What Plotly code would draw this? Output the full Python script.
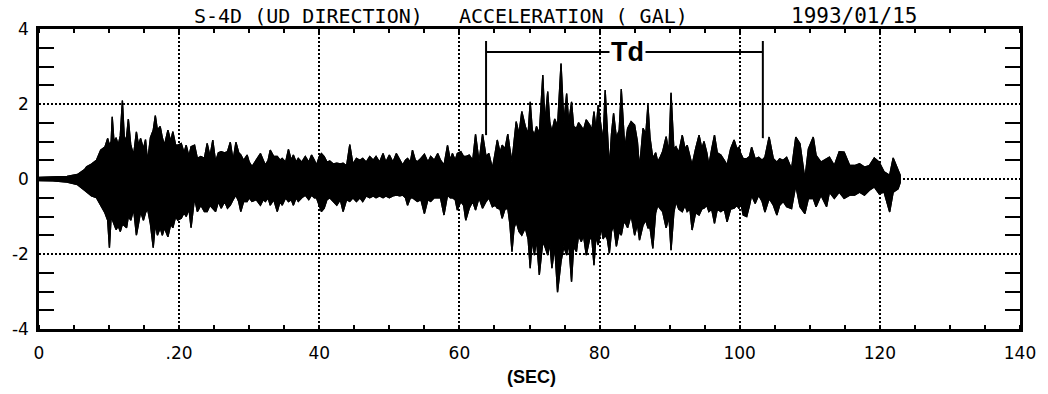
import plotly.graph_objects as go

# ---- waveform envelope (time in s, acceleration in gal) ----
t_s = [
    0, 2, 4, 5.5, 6.5, 6.8, 7.5, 8.2, 8.8, 9.4, 9.8, 10.05, 10.3, 10.45, 10.7, 11.0, 11.3, 11.6, 11.9, 12.2,
    12.5, 12.75, 13.1, 13.5, 13.9, 14.2, 14.5, 14.9, 15.2, 15.5, 15.9, 16.3, 16.6, 16.9, 17.3, 17.6, 17.9, 18.4,
    18.8, 19.1, 19.5, 19.8,
    20.3, 20.7, 21.0, 21.4, 21.7, 22.2, 22.6, 23.1, 23.6, 24.0, 24.4, 24.8, 25.2, 25.6, 26.0, 26.5, 26.9, 27.3,
    27.7, 28.1, 28.5, 28.8, 29.2, 29.7, 30.0, 30.4, 31.0, 31.6, 32.0, 32.3, 32.7, 33.0, 33.5, 34.0, 34.4, 34.7,
    35.2, 35.6, 36.0, 36.3, 36.7, 37.0, 37.5, 38.0, 38.5, 38.9, 39.3, 39.6, 40.0, 40.3,
    40.7, 41.1, 41.5, 42.0, 42.5, 43.0, 43.4, 43.9, 44.35, 44.8, 45.3, 45.8, 46.2, 46.7, 47.2, 47.7, 48.1, 48.6,
    49.1, 49.5, 50.0, 50.5, 51.0, 51.5, 51.9, 52.3, 52.6, 53.0, 53.3, 53.7, 54.0, 54.5, 55.0, 55.5, 55.9, 56.4,
    56.9, 57.3, 57.8, 58.3, 58.7, 59.0, 59.4, 59.7,
    60.2, 60.6, 60.9, 61.4, 61.9, 62.3, 62.8, 63.3, 63.8, 64.2, 64.7, 65.1, 65.4, 65.8, 66.1, 66.5, 66.9, 67.2,
    67.5, 67.8, 68.1, 68.5, 68.9, 69.4, 69.8, 70.1, 70.4, 70.7, 71.0, 71.4, 71.9, 72.2, 72.6, 72.9, 73.2, 73.6,
    74.0, 74.5, 74.9, 75.3, 75.6, 76.0, 76.3, 76.7, 77.0, 77.4, 77.7, 78.1, 78.6, 78.9, 79.2, 79.5, 79.8,
    80.25, 80.5, 80.8, 81.1, 81.4, 81.7, 82.0, 82.4, 82.8, 83.1, 83.4, 83.6, 84.0, 84.5, 85.0, 85.4, 85.7, 86.2,
    86.6, 86.9, 87.2, 87.6, 88.0, 88.3, 88.7, 89.0, 89.5, 89.9, 90.2, 90.6, 90.9, 91.3, 91.8, 92.2, 92.5, 92.9,
    93.2, 93.7, 94.2, 94.6, 94.9, 95.3, 95.6, 96.0, 96.4, 96.8, 97.3, 97.8, 98.2, 98.7, 99.2, 99.6,
    99.9, 100.1, 100.5, 101.0, 101.4, 101.7, 102.2, 102.7, 103.2, 103.6, 104.2, 104.8, 105.3, 105.7, 106.2,
    106.7, 107.4, 108.0, 108.6, 109.3, 109.8, 110.5, 110.9, 111.6, 112.4, 112.8, 113.5, 114.2, 114.9, 115.7,
    116.4, 117.1, 117.8, 118.5, 119.2, 119.9, 120.6, 121.4, 121.9, 122.6, 122.9,
]
acc_hi = [
    0.04, 0.05, 0.07, 0.12, 0.25, 0.33, 0.4, 0.5, 0.77, 0.85, 1.08, 0.9, 1.0, 1.66, 1.0, 1.1, 0.9, 1.15, 2.09, 1.0,
    1.13, 1.6, 0.9, 0.64, 1.26, 0.9, 1.08, 0.8, 1.05, 0.46, 1.1, 1.3, 1.69, 1.3, 1.4, 1.1, 0.9, 1.3,
    1.0, 1.26, 0.9, 0.9,
    0.95, 0.7, 0.9, 0.6, 0.86, 0.9, 0.55, 0.6, 0.55, 0.95, 0.6, 1.04, 0.46, 0.7, 0.73, 0.7, 0.73, 0.98,
    0.5, 0.98, 0.7, 0.64, 0.5, 0.64, 0.45, 0.33, 0.5, 0.68, 0.5, 0.37, 0.5, 0.77, 0.6, 0.6, 0.5, 0.55,
    0.45, 0.79, 0.5, 0.64, 0.45, 0.55, 0.45, 0.6, 0.45, 0.64, 0.5, 0.37, 0.6, 0.68,
    0.6, 0.45, 0.48, 0.4, 0.42, 0.4, 0.42, 0.35, 0.92, 0.4, 0.55, 0.5, 0.55, 0.45, 0.6, 0.5, 0.6, 0.45,
    0.68, 0.45, 0.64, 0.45, 0.68, 0.5, 0.37, 0.5, 0.55, 0.45, 0.77, 0.5, 0.46, 0.55, 0.66, 0.45, 0.6, 0.5,
    0.68, 0.5, 0.37, 0.9, 0.5, 0.68, 0.5, 0.68,
    0.73, 0.6, 0.6, 0.64, 0.5, 1.19, 0.46, 1.2, 0.6, 0.68, 0.28, 0.7, 1.04, 0.7, 0.9, 0.8, 1.2, 0.8,
    0.46, 1.0, 1.53, 1.2, 1.8, 1.4, 1.2, 2.06, 1.3, 1.17, 1.4, 1.2, 2.77, 1.5, 2.33, 1.5, 1.26, 1.6,
    1.4, 3.08, 1.5, 2.28, 1.5, 2.06, 1.4, 1.35, 1.5, 1.4, 1.3, 1.58, 1.44, 1.3, 1.8, 1.3, 1.97,
    1.35, 1.0, 2.37, 1.2, 0.28, 1.2, 1.75, 1.1, 1.3, 2.4, 1.2, 0.82, 1.35, 1.53, 1.44, 1.0, 0.28, 1.35,
    1.2, 1.97, 1.1, 0.55, 0.7, 0.46, 0.6, 0.73, 1.13, 0.7, 2.3, 0.8, 0.86, 0.7, 1.17, 0.8, 0.9, 0.6,
    0.37, 0.8, 1.17, 0.8, 1.0, 0.7, 0.37, 0.8, 1.17, 0.7, 0.64, 0.5, 0.37, 0.8, 1.04, 0.8,
    0.85, 0.7, 0.54, 0.54, 0.6, 0.85, 0.54, 0.58, 0.5, 0.58, 1.12, 0.54, 0.45, 0.54, 0.5,
    0.58, 0.27, 1.12, 0.94, 0.0, 0.8, 1.12, 0.63, 0.45, 0.54, 0.58, 0.36, 0.73, 0.72, 0.36,
    0.36, 0.41, 0.32, 0.36, 0.56, 0.45, 0.19, 0.1, 0.56, 0.27, 0.1,
]
acc_lo = [
    -0.04, -0.05, -0.08, -0.15, -0.3, -0.36, -0.45, -0.5, -0.7, -0.9, -1.1, -1.83, -1.0, -1.1, -1.2, -1.35, -1.25,
    -1.4, -1.2, -1.25, -1.3, -1.0, -1.1, -0.8, -1.5, -1.2, -0.87, -1.1, -0.9, -0.8, -1.2, -1.83, -1.2, -1.5,
    -1.3, -1.5, -1.3, -1.54, -1.2, -1.3, -1.0, -1.1,
    -1.05, -0.9, -1.0, -0.8, -1.3, -0.5, -0.87, -0.7, -0.87, -0.87, -0.7, -0.78, -0.87, -0.6, -0.78, -0.6,
    -0.78, -0.7, -0.55, -0.43, -0.6, -0.87, -0.6, -0.6, -0.5, -0.6, -0.55, -0.7, -0.55, -0.6, -0.5, -0.7,
    -0.55, -0.87, -0.6, -0.7, -0.5, -0.6, -0.55, -0.7, -0.5, -0.6, -0.5, -0.43, -0.55, -0.43, -0.5, -0.5,
    -0.7, -0.87,
    -0.78, -0.55, -0.5, -0.6, -0.7, -0.55, -0.87, -0.55, -0.6, -0.5, -0.6, -0.5, -0.6, -0.45, -0.5, -0.45,
    -0.5, -0.45, -0.5, -0.45, -0.5, -0.45, -0.43, -0.45, -0.43, -0.5, -0.7, -0.5, -0.5, -0.55, -0.6, -0.55,
    -0.92, -0.55, -0.6, -0.5, -0.5, -0.5, -0.96, -0.43, -0.5, -0.5, -0.55, -0.83,
    -0.6, -0.7, -1.1, -0.78, -0.6, -0.83, -0.5, -0.78, -0.6, -0.5, -0.74, -0.7, -0.78, -0.8, -1.05, -0.8,
    -0.78, -1.2, -1.94, -1.3, -1.14, -1.4, -1.5, -1.3, -1.6, -2.38, -1.6, -2.03, -1.6, -2.56, -1.67, -1.8,
    -2.03, -1.7, -2.38, -1.8, -3.02, -2.2, -1.8, -2.03, -1.7, -2.74, -1.8, -1.94, -1.5, -1.67, -1.5, -2.03,
    -1.58, -1.6, -2.3, -1.5, -1.76,
    -1.3, -1.6, -1.5, -1.6, -1.98, -1.4, -1.23, -1.8, -1.4, -1.5, -1.2, -1.14, -1.3, -0.96, -1.5, -1.2,
    -1.63, -1.23, -1.1, -1.3, -1.3, -1.85, -0.9, -0.7, -0.8, -0.87, -1.3, -1.0, -1.9, -0.9, -0.6, -0.8,
    -0.87, -0.7, -0.87, -0.8, -1.36, -0.9, -0.96, -0.8, -0.78, -0.7, -0.87, -0.8, -1.18, -0.8, -0.87, -0.8,
    -1.14, -0.8, -0.78, -0.7,
    -0.79, -0.6, -0.96, -1.0, -0.7, -0.43, -0.65, -0.43, -0.6, -0.88, -0.52, -0.7, -0.96, -0.7, -0.6,
    -0.74, -0.79, -0.17, -0.74, -0.92, -0.52, -0.52, -0.74, -0.43, -0.74, -0.35, -0.52, -0.35, -0.52, -0.43,
    -0.43, -0.35, -0.43, -0.3, -0.21, -0.39, -0.35, -0.88, -0.35, -0.26, -0.1,
]
assert len(t_s) == len(acc_hi) == len(acc_lo), (len(t_s), len(acc_hi), len(acc_lo))

# ---- axes ----
x_ticks = [0, 20, 40, 60, 80, 100, 120, 140]
x_ticklabels = ["0", ".20", "40", "60", "80", "100", "120", "140"]
y_ticks = [-4, -2, 0, 2, 4]
y_ticklabels = ["-4", "-2", "0", "2", "4"]
y_small_ticks = [-3.5, -3, -2.5, -1.5, -1, -0.5, 0.5, 1, 1.5, 2.5, 3, 3.5]

# ---- Td (duration) marker ----
td_start, td_end = 63.8, 103.3
td_level = 3.39
td_top = 3.68
td_start_bottom, td_end_bottom = 1.17, 1.09

poly_x = t_s + t_s[::-1]
poly_y = acc_hi + acc_lo[::-1]

fig = go.Figure()
fig.add_trace(go.Scatter(
    x=poly_x, y=poly_y, mode="lines", fill="toself", fillcolor="black",
    line=dict(color="black", width=1.3), hoverinfo="skip", showlegend=False,
))
# same outline on the overlaid axis that carries the small 0.5-gal ticks
fig.add_trace(go.Scatter(
    x=poly_x, y=poly_y, yaxis="y2", mode="lines",
    line=dict(color="black", width=1.3), hoverinfo="skip", showlegend=False,
))

line_style = dict(color="black", width=2)
fig.add_shape(type="line", xref="x", yref="y", x0=td_start, x1=td_start, y0=td_start_bottom, y1=td_top, line=line_style)
fig.add_shape(type="line", xref="x", yref="y", x0=td_end, x1=td_end, y0=td_end_bottom, y1=td_top, line=line_style)
fig.add_shape(type="line", xref="x", yref="y", x0=td_start, x1=td_end, y0=td_level, y1=td_level, line=line_style)
fig.add_annotation(x=(td_start + td_end) / 2 + 0.5, y=td_level, xref="x", yref="y", text="Td", showarrow=False,
                   font=dict(family="Liberation Sans", size=27, color="black", weight="bold"),
                   bgcolor="white", borderpad=1, xanchor="center", yanchor="middle")

title_font = dict(family="DejaVu Sans Mono", size=20, color="black")
fig.add_annotation(x=0.156, y=1.042, xref="paper", yref="paper", text="S-4D (UD DIRECTION)",
                   showarrow=False, xanchor="left", yanchor="middle", font=title_font)
fig.add_annotation(x=0.426, y=1.042, xref="paper", yref="paper", text="ACCELERATION ( GAL)",
                   showarrow=False, xanchor="left", yanchor="middle", font=title_font)
fig.add_annotation(x=0.765, y=1.042, xref="paper", yref="paper", text="1993/01/15",
                   showarrow=False, xanchor="left", yanchor="middle",
                   font=dict(family="DejaVu Sans Mono", size=21, color="black"))
fig.add_annotation(x=0.502, y=-0.16, xref="paper", yref="paper", text="(SEC)",
                   showarrow=False, xanchor="center", yanchor="middle",
                   font=dict(family="Liberation Sans", size=18, color="black", weight="bold"))

common = dict(showline=True, linecolor="black", linewidth=2.5, mirror="ticks", zeroline=False)
grid = dict(showgrid=True, gridcolor="black", gridwidth=1.5, griddash="2px,2px", ticks="",
            tickfont=dict(family="DejaVu Sans", size=17, color="black"))

fig.update_layout(
    width=1048, height=394, margin=dict(l=37, r=23, t=29, b=65),
    paper_bgcolor="white", plot_bgcolor="white", showlegend=False,
    xaxis=dict(range=[0, 140], tickmode="array", tickvals=x_ticks, ticktext=x_ticklabels,
               ticklabelstandoff=7,
               minor=dict(tickmode="linear", tick0=0, dtick=5, ticks="inside", ticklen=4,
                          tickwidth=1.5, tickcolor="black", showgrid=False),
               **common, **grid),
    yaxis=dict(range=[-4, 4], tickmode="array", tickvals=y_ticks, ticktext=y_ticklabels,
               ticklabelstandoff=4, **common, **grid),
    yaxis2=dict(range=[-4, 4], overlaying="y", anchor="x", side="left", tickmode="array",
                tickvals=y_small_ticks, ticks="inside", ticklen=15, tickwidth=2, tickcolor="black",
                showticklabels=False, showgrid=False, **common),
)

fig.write_html("out.html")
